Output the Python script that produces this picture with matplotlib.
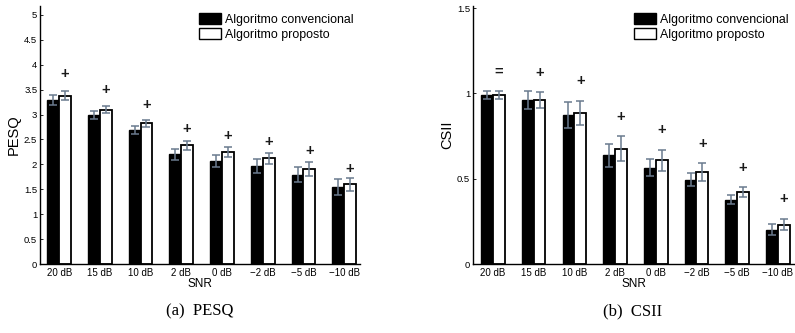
import matplotlib
matplotlib.use("Agg")
import matplotlib.pyplot as plt
import numpy as np

# SNR conditions
snr_labels = ["20 dB", "15 dB", "10 dB", "2 dB", "0 dB", "\u22122 dB", "\u22125 dB", "\u221210 dB"]
series_names = ["Algoritmo convencional", "Algoritmo proposto"]

# PESQ: mean and error per SNR
pesq_conv = [3.29, 2.99, 2.69, 2.20, 2.07, 1.96, 1.79, 1.55]
pesq_conv_err = [0.095, 0.085, 0.085, 0.11, 0.12, 0.14, 0.15, 0.165]
pesq_prop = [3.38, 3.10, 2.83, 2.38, 2.24, 2.12, 1.91, 1.60]
pesq_prop_err = [0.09, 0.07, 0.07, 0.085, 0.10, 0.11, 0.145, 0.135]
pesq_sig = ["+", "+", "+", "+", "+", "+", "+", "+"]

# CSII: mean and error per SNR
csii_conv = [0.99, 0.96, 0.873, 0.637, 0.565, 0.494, 0.378, 0.202]
csii_conv_err = [0.022, 0.054, 0.075, 0.066, 0.052, 0.037, 0.025, 0.033]
csii_prop = [0.99, 0.96, 0.886, 0.675, 0.608, 0.539, 0.42, 0.231]
csii_prop_err = [0.022, 0.047, 0.069, 0.073, 0.062, 0.05, 0.029, 0.032]
csii_sig = ["=", "+", "+", "+", "+", "+", "+", "+"]

W, H = 795, 333
fig = plt.figure(figsize=(W / 100, H / 100), dpi=100)
plt.rcParams["font.family"] = ["Liberation Sans", "DejaVu Sans"]

ERR_COLOR = "#6a7a8e"


def panel(rect, conv, conv_err, prop, prop_err, sig, ylim, yticks, yticklabels,
          ylabel, sig_pos, xlim):
    ax = fig.add_axes(rect)
    x = np.arange(1, len(snr_labels) + 1)
    bw = 0.29
    ax.bar(x - bw / 2, conv, bw, color="black", edgecolor="black", linewidth=1.0,
           label=series_names[0], zorder=2)
    ax.bar(x + bw / 2, prop, bw, color="white", edgecolor="black", linewidth=1.3,
           label=series_names[1], zorder=2)
    ax.errorbar(x - bw / 2, conv, yerr=conv_err, fmt="none", ecolor=ERR_COLOR,
                elinewidth=1.1, capsize=2.8, capthick=1.1, zorder=3)
    ax.errorbar(x + bw / 2, prop, yerr=prop_err, fmt="none", ecolor=ERR_COLOR,
                elinewidth=1.1, capsize=2.8, capthick=1.1, zorder=3)
    for xi, p, e, s in zip(x, prop, prop_err, sig):
        ax.text(xi + bw / 2, sig_pos(p + e), s, ha="center", va="center",
                fontsize=10.5, fontweight="bold", color="#1a1a1a")
    ax.set_xlim(*xlim)
    ax.set_ylim(*ylim)
    ax.set_xticks(x)
    ax.set_xticklabels(snr_labels, fontsize=7)
    ax.set_yticks(yticks)
    ax.set_yticklabels(yticklabels, fontsize=6.8)
    ax.tick_params(axis="both", direction="in", length=2, width=0.6, pad=2)
    ax.tick_params(axis="x", length=0, pad=3)
    for sp in ("top", "right"):
        ax.spines[sp].set_visible(False)
    ax.spines["left"].set_linewidth(1.0)
    ax.spines["bottom"].set_linewidth(1.0)
    ax.set_xlabel("SNR", fontsize=8.5, labelpad=0)
    ax.set_ylabel(ylabel, fontsize=10.5, labelpad=2)
    leg = ax.legend(loc="upper right", bbox_to_anchor=(1.0, 1.0), frameon=False,
                    fontsize=8.9, handlelength=1.8, handleheight=1.0,
                    handletextpad=0.25, labelspacing=0.2, borderaxespad=0.35,
                    borderpad=0.2)
    for h in leg.legend_handles:
        h.set_linewidth(1.0)
    return ax


panel([40 / W, 69 / H, 320 / W, 258 / H], pesq_conv, pesq_conv_err, pesq_prop,
      pesq_prop_err, pesq_sig, (0, 5.18), np.arange(0, 5.01, 0.5),
      ["0", "0.5", "1", "1.5", "2", "2.5", "3", "3.5", "4", "4.5", "5"],
      "PESQ", lambda top: top * 1.1, (0.53, 8.39))

panel([473 / W, 69 / H, 322 / W, 258 / H], csii_conv, csii_conv_err, csii_prop,
      csii_prop_err, csii_sig, (0, 1.512), [0, 0.5, 1, 1.5],
      ["0", "0.5", "1", "1.5"],
      "CSII", lambda top: top + 0.115, (0.51, 8.42))

cap_font = ["Liberation Serif", "DejaVu Serif"]
fig.text(200 / W, 1 - 311 / H, "(a)  PESQ", ha="center", va="center",
         fontsize=12, family=cap_font)
fig.text(633 / W, 1 - 311 / H, "(b)  CSII", ha="center", va="center",
         fontsize=12, family=cap_font)

fig.savefig("out.png", dpi=100)
